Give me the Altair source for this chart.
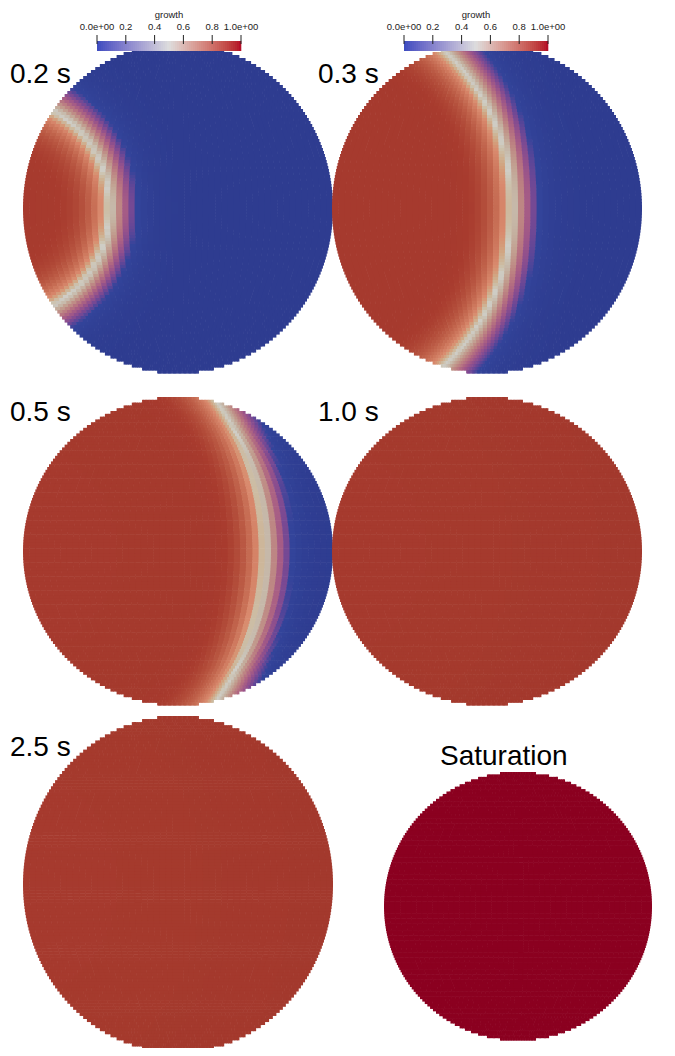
import altair as alt
import numpy as np
import pandas as pd

# panel labels and disc layout (image pixel coordinates)
labels = ["0.2 s", "0.3 s", "0.5 s", "1.0 s", "2.5 s", "Saturation"]
centers_x = [178, 487, 178, 487, 178, 518]
centers_y = [208, 208, 551, 551, 884, 906]
radii_x = [155, 155, 155, 155, 155, 134]
radii_y = [165, 165, 154, 154, 168, 134]
# front radius (distance from a source left of the disc, in disc radii), front width
front_pos = [0.68, 1.28, 1.68, 9.0, 9.0, 9.0]
front_width = [0.42, 0.42, 0.42, 0.42, 0.42, 0.42]
plateau = [0.9, 0.9, 0.9, 0.9, 0.9, 1.0]
source_x = -1.1

label_x = [10, 318, 10, 318, 10, 440]
label_y = [75, 75, 413, 413, 748, 757]

tick_vals = [0.0, 0.2, 0.4, 0.6, 0.8, 1.0]
tick_text = ["0.0e+00", "0.2", "0.4", "0.6", "0.8", "1.0e+00"]
bar_left = [97, 404]
bar_right = [241, 548]


def field_val(i, u, v):
    d = np.hypot(u - source_x, v)
    val = plateau[i] / (1 + np.exp((d - front_pos[i]) / (front_width[i] / 5.0)))
    if plateau[i] < 1.0 and val > 0.5:
        val -= 0.03 * (1 - d / 2.1)
    return float(val)


NROW = 110
NCOL = 50
rows = []
for i in range(len(labels)):
    cx, cy, rx, ry = centers_x[i], centers_y[i], radii_x[i], radii_y[i]
    gv = np.linspace(-1, 1, NROW + 1)
    for b in range(NROW):
        v = (gv[b] + gv[b + 1]) / 2
        half = np.sqrt(max(0.0, 1 - v * v))
        gu = np.linspace(-half, half, NCOL + 1)
        for a in range(NCOL):
            u = (gu[a] + gu[a + 1]) / 2
            rows.append({
                "x": cx + rx * gu[a], "x2": cx + rx * gu[a + 1] + (0.6 if a < NCOL - 1 else 0),
                "y": cy + ry * gv[b], "y2": cy + ry * gv[b + 1] + 0.6,
                "val": field_val(i, u, v),
            })
field = pd.DataFrame(rows)

bars = []
for k in range(2):
    steps = 72
    w = (bar_right[k] - bar_left[k]) / steps
    for s in range(steps):
        bars.append({"x": bar_left[k] + s * w, "x2": bar_left[k] + (s + 1) * w + 0.3,
                     "y": 41, "y2": 51, "val": (s + 0.5) / steps})
bar_df = pd.DataFrame(bars)

ticks = []
for k in range(2):
    for t, txt in zip(tick_vals, tick_text):
        ticks.append({"x": bar_left[k] + t * (bar_right[k] - bar_left[k]), "txt": txt})
tick_df = pd.DataFrame(ticks)
titles_df = pd.DataFrame({"x": [(l + r) / 2 for l, r in zip(bar_left, bar_right)], "txt": ["growth", "growth"]})
label_df = pd.DataFrame({"x": label_x, "y": label_y, "txt": labels})

X = alt.Scale(domain=[8, 667], nice=False, zero=False)
Y = alt.Scale(domain=[8, 1048], nice=False, zero=False, reverse=True)

discs = alt.Chart(field).mark_rect().encode(
    x=alt.X("x:Q", scale=X, axis=None), x2="x2:Q",
    y=alt.Y("y:Q", scale=Y, axis=None), y2="y2:Q",
    color=alt.Color("val:Q", legend=None, scale=alt.Scale(
        domain=[0, 0.12, 0.5, 0.62, 0.86, 0.9, 1.0],
        range=["#2e3c90", "#33449a", "#cfcdc6", "#d98a6e", "#a83b2e", "#a3392d", "#8b0020"])),
)

bar = alt.Chart(bar_df).mark_rect().encode(
    x=alt.X("x:Q", scale=X, axis=None), x2="x2:Q",
    y=alt.Y("y:Q", scale=Y, axis=None), y2="y2:Q",
    color=alt.Color("val:Q", legend=None, scale=alt.Scale(
        domain=[0, 0.5, 1], range=["#3b4cc0", "#dddddd", "#b40426"])),
)

tick_marks = alt.Chart(tick_df).mark_rule(color="#222", strokeWidth=1).encode(
    x=alt.X("x:Q", scale=X, axis=None),
    y=alt.value(27), y2=alt.value(36),
)
tick_labels = alt.Chart(tick_df).mark_text(fontSize=9.5, font="Liberation Sans Narrow, Liberation Sans", color="#222").encode(
    x=alt.X("x:Q", scale=X, axis=None), y=alt.value(19), text="txt:N")
bar_titles = alt.Chart(titles_df).mark_text(fontSize=9.5, font="Liberation Sans", color="#222").encode(
    x=alt.X("x:Q", scale=X, axis=None), y=alt.value(7), text="txt:N")
panel_labels = alt.Chart(label_df).mark_text(
    fontSize=28, font="Liberation Sans", align="left", color="#000").encode(
    x=alt.X("x:Q", scale=X, axis=None), y=alt.Y("y:Q", scale=Y, axis=None), text="txt:N")

chart = alt.layer(discs, bar, tick_marks, tick_labels, bar_titles, panel_labels).resolve_scale(
    color="independent"
).properties(
    width=659, height=1040, autosize=alt.AutoSizeParams(type="none"), padding=0
).configure_view(strokeWidth=0)

chart.save("out.html", embed_options={"renderer": "svg", "actions": False})
